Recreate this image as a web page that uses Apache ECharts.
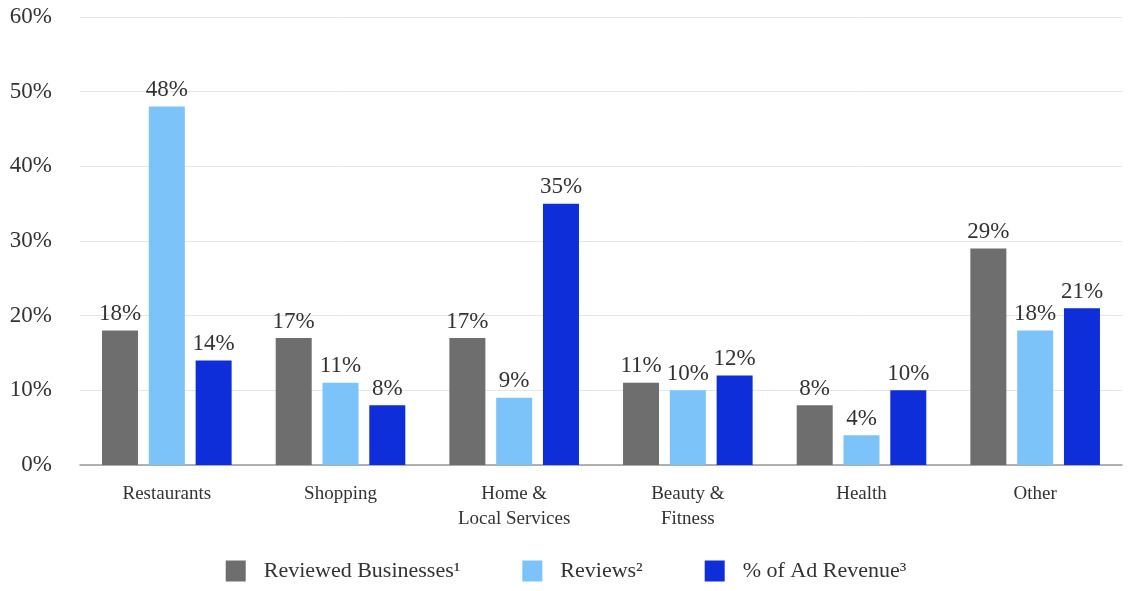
<!DOCTYPE html>
<html><head><meta charset="utf-8">
<script src="https://cdn.jsdelivr.net/npm/echarts@6/dist/echarts.min.js"></script>
<style>html,body{margin:0;padding:0;background:#fff}#c{width:1132px;height:591px}</style>
</head><body><div id="c"></div>
<script>
const categories = ['Restaurants', 'Shopping', 'Home &\nLocal Services', 'Beauty &\nFitness', 'Health', 'Other'];
const reviewedBusinesses = [18, 17, 17, 11, 8, 29];
const reviews = [48, 11, 9, 10, 4, 18];
const adRevenue = [14, 8, 35, 12, 10, 21];
const yTicks = [0, 10, 20, 30, 40, 50, 60];
const seriesNames = ['Reviewed Businesses¹', 'Reviews²', '% of Ad Revenue³'];
const colors = ['#6e6e6e', '#7cc3fa', '#0d2ed9'];

const font = '"Liberation Serif", "DejaVu Serif", serif';
const chart = echarts.init(document.getElementById('c'), null, {renderer: 'canvas'});
const mk = (name, data, color) => ({
  name, type: 'bar', data, barWidth: 36, barGap: '30%',
  itemStyle: {color},
  label: {show: true, position: 'top', distance: 5, formatter: '{c}%', color: '#333', fontFamily: font, fontSize: 23}
});
chart.setOption({
  animation: false,
  textStyle: {fontFamily: font},
  grid: {left: 80, right: 10, top: 17, bottom: 126},
  legend: {
    bottom: 4, left: 'center', itemWidth: 20, itemHeight: 21, itemGap: 62,
    icon: 'rect',
    textStyle: {fontFamily: font, fontSize: 22, color: '#333', padding: [0, 0, 0, 13]},
    data: seriesNames
  },
  xAxis: {
    type: 'category', data: categories,
    axisLine: {lineStyle: {color: '#999', width: 1.5}},
    axisTick: {show: false},
    axisLabel: {fontFamily: font, fontSize: 19, color: '#333', margin: 17, lineHeight: 25}
  },
  yAxis: {
    type: 'value', min: 0, max: 60, interval: 10,
    axisLine: {show: false}, axisTick: {show: false},
    splitLine: {lineStyle: {color: '#e6e6e6'}},
    axisLabel: {fontFamily: font, fontSize: 23, color: '#333', margin: 28,
      formatter: v => yTicks.includes(v) ? v + '%' : ''}
  },
  series: [
    mk(seriesNames[0], reviewedBusinesses, colors[0]),
    mk(seriesNames[1], reviews, colors[1]),
    mk(seriesNames[2], adRevenue, colors[2])
  ]
});
</script></body></html>
